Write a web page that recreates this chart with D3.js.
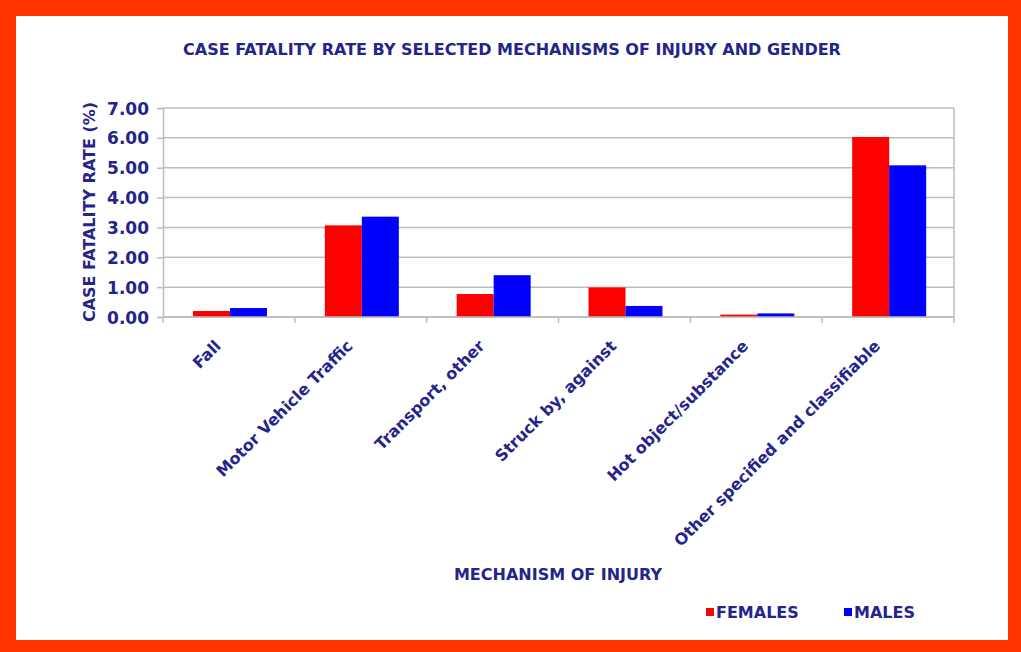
<!DOCTYPE html>
<html>
<head>
<meta charset="utf-8">
<script src="https://cdn.jsdelivr.net/npm/d3@7"></script>
<style>
  body { margin:0; background:#ff3300; }
  text { font-family: "DejaVu Sans", sans-serif; font-weight:bold; fill:#24248a; }
</style>
</head>
<body>
<script>
var categories = ["Fall","Motor Vehicle Traffic","Transport, other","Struck by, against","Hot object/substance","Other specified and classifiable"];
var females = [0.20, 3.07, 0.77, 0.99, 0.08, 6.03];
var males = [0.30, 3.36, 1.40, 0.37, 0.12, 5.08];
var seriesNames = ["FEMALES","MALES"];
var seriesColors = ["#ff0000","#0000ff"];
var yTicks = [0,1,2,3,4,5,6,7];

var width = 1021, height = 652;
var margin = {left:163, right:67, top:108, bottom:335};
var w = width - margin.left - margin.right;
var h = height - margin.top - margin.bottom;

var svg = d3.select("body").append("svg").attr("width",width).attr("height",height).style("display","block");
svg.append("rect").attr("x",0).attr("y",0).attr("width",width).attr("height",height).attr("fill","#ff3300");
svg.append("rect").attr("x",16).attr("y",16).attr("width",992).attr("height",624).attr("fill","#ffffff");

var x = d3.scaleBand().domain(categories).range([0,w]).paddingInner(0).paddingOuter(0);
var x1 = d3.scaleBand().domain(seriesNames).range([30, 30 + 74]);
var y = d3.scaleLinear().domain([0,7]).range([h,0]);

var g = svg.append("g").attr("transform","translate("+margin.left+","+margin.top+")");

// grid
g.selectAll("line.grid").data(yTicks).enter().append("line")
  .attr("x1",0).attr("x2",w).attr("y1",function(d){ return y(d); }).attr("y2",function(d){ return y(d); })
  .attr("stroke","#bdbdbd").attr("stroke-width",1.5);
g.append("line").attr("x1",w).attr("x2",w).attr("y1",0).attr("y2",h).attr("stroke","#bdbdbd").attr("stroke-width",1.5);

// bars
var rows = categories.map(function(c,i){ return {cat:c, vals:[females[i], males[i]]}; });
var grp = g.selectAll("g.cat").data(rows).enter().append("g")
  .attr("transform",function(d){ return "translate("+x(d.cat)+",0)"; });
grp.selectAll("rect").data(function(d){ return d.vals.map(function(v,j){ return {s:seriesNames[j], v:v, c:seriesColors[j]}; }); })
  .enter().append("rect")
  .attr("x",function(d){ return x1(d.s); })
  .attr("width",x1.bandwidth())
  .attr("y",function(d){ return y(d.v); })
  .attr("height",function(d){ return h - y(d.v); })
  .attr("fill",function(d){ return d.c; });

// y axis
var yAxis = d3.axisLeft(y).tickValues(yTicks).tickFormat(d3.format(".2f")).tickSize(6).tickPadding(8);
var ya = g.append("g").call(yAxis);
ya.select(".domain").attr("stroke","#bdbdbd").attr("stroke-width",1.5);
ya.selectAll(".tick line").attr("stroke","#bdbdbd").attr("stroke-width",1.5);
ya.selectAll(".tick text").style("font-size","17px").attr("dy","0.36em");

// x axis
var xa = g.append("g").attr("transform","translate(0,"+h+")");
xa.append("line").attr("x1",0).attr("x2",w).attr("stroke","#bdbdbd").attr("stroke-width",1.5);
var bounds = categories.map(function(c){ return x(c); }).concat([w]);
xa.selectAll("line.tk").data(bounds).enter().append("line")
  .attr("x1",function(d){ return d; }).attr("x2",function(d){ return d; })
  .attr("y1",0).attr("y2",6).attr("stroke","#bdbdbd").attr("stroke-width",1.5);
xa.selectAll("text.lbl").data(categories).enter().append("text")
  .attr("text-anchor","end")
  .style("font-size","16px")
  .attr("transform",function(d){ return "translate("+(x(d)+x.bandwidth()/2 - 7)+",30) rotate(-45)"; })
  .text(function(d){ return d; });

// titles
svg.append("text").attr("x",512).attr("y",55).attr("text-anchor","middle").style("font-size","16px")
  .text("CASE FATALITY RATE BY SELECTED MECHANISMS OF INJURY AND GENDER");
svg.append("text").attr("transform","translate(95,212) rotate(-90)").attr("text-anchor","middle").style("font-size","16px")
  .text("CASE FATALITY RATE (%)");
svg.append("text").attr("x",558).attr("y",580).attr("text-anchor","middle").style("font-size","16px")
  .text("MECHANISM OF INJURY");

// legend
var legX = [706, 844];
var leg = svg.selectAll("g.leg").data(seriesNames).enter().append("g")
  .attr("transform",function(d,i){ return "translate("+legX[i]+",606)"; });
leg.append("rect").attr("width",8).attr("height",8).attr("y",2).attr("fill",function(d,i){ return seriesColors[i]; });
leg.append("text").attr("x",10).attr("y",12).style("font-size","16px").text(function(d){ return d; });
</script>
</body>
</html>
